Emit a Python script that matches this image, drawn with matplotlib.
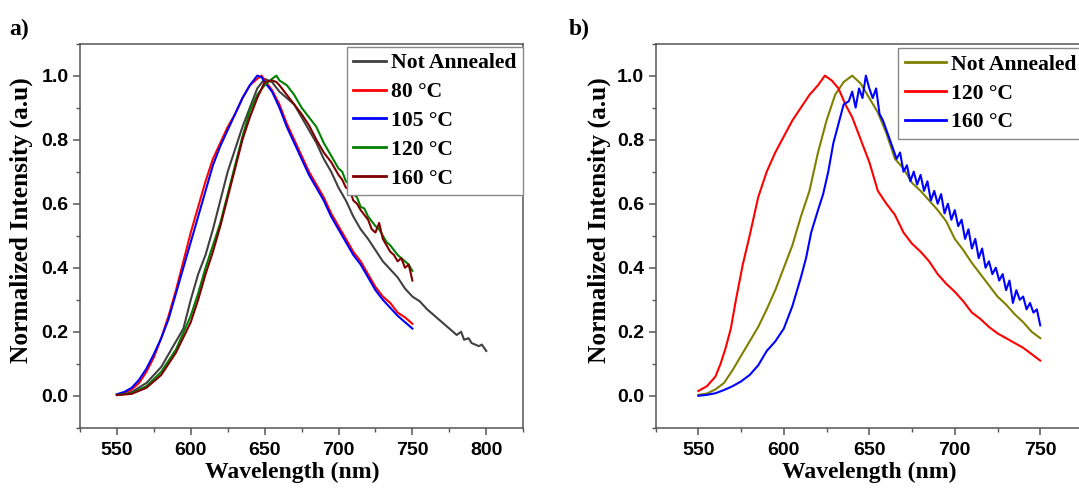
import matplotlib
matplotlib.use("Agg")
import matplotlib.pyplot as plt
from matplotlib.ticker import MultipleLocator

# ---- panel a: PL spectra vs annealing temperature ----
wl_a = [550, 555, 560, 565, 570, 575, 580, 585, 590, 595, 600, 605, 610, 615, 620,
        625, 630, 635, 640, 645, 648, 650, 655, 660, 665, 670, 675, 680, 685, 690,
        695, 700, 705, 710, 715, 720, 725, 730, 735, 740, 745, 750]
red_a = [0.003, 0.008, 0.02, 0.04, 0.075, 0.12, 0.18, 0.25, 0.33, 0.42, 0.51, 0.59,
         0.67, 0.74, 0.79, 0.84, 0.88, 0.93, 0.97, 0.99, 1.0, 0.985, 0.955, 0.91,
         0.85, 0.80, 0.75, 0.70, 0.66, 0.62, 0.57, 0.53, 0.49, 0.45, 0.42, 0.38, 0.34,
         0.31, 0.29, 0.26, 0.245, 0.225]
blue_a = [0.005, 0.012, 0.025, 0.05, 0.085, 0.13, 0.18, 0.24, 0.32, 0.40, 0.48, 0.56,
          0.64, 0.72, 0.78, 0.83, 0.88, 0.93, 0.97, 1.0, 0.995, 0.98, 0.95, 0.90,
          0.84, 0.79, 0.74, 0.69, 0.65, 0.61, 0.56, 0.52, 0.48, 0.44, 0.41, 0.37, 0.33,
          0.30, 0.275, 0.25, 0.23, 0.21]

wl_na_a = [550, 560, 570, 580, 590, 595, 600, 605, 610, 615, 620, 625, 630, 635, 640,
           645, 650, 655, 660, 665, 670, 675, 680, 685, 690, 695, 700, 705, 710, 715,
           720, 725, 730, 735, 740, 745, 750, 755, 760, 765, 770, 775, 780, 783, 785,
           788, 790, 795, 797, 800]
na_a = [0.003, 0.012, 0.04, 0.09, 0.17, 0.21, 0.30, 0.38, 0.44, 0.52, 0.61, 0.70,
        0.77, 0.84, 0.90, 0.96, 0.99, 0.98, 0.95, 0.93, 0.91, 0.87, 0.83, 0.79, 0.74,
        0.70, 0.65, 0.61, 0.56, 0.52, 0.49, 0.455, 0.42, 0.395, 0.37, 0.335, 0.31,
        0.295, 0.27, 0.25, 0.23, 0.21, 0.19, 0.20, 0.175, 0.18, 0.165, 0.155, 0.16,
        0.14]

wl_hot_a = [550, 560, 570, 580, 590, 600, 605, 610, 615, 620, 625, 630, 635, 640, 645,
            650, 655, 658, 660, 665, 670, 675, 680, 685, 690, 695, 700, 702.5, 705,
            707.5, 710, 712.5, 715, 717.5, 720, 722.5, 725, 727.5, 730, 732.5, 735,
            737.5, 740, 742.5, 745, 747.5, 750]
green_a = [0.003, 0.008, 0.03, 0.075, 0.145, 0.25, 0.32, 0.40, 0.47, 0.54, 0.63, 0.72,
           0.81, 0.89, 0.94, 0.97, 0.99, 1.0, 0.985, 0.97, 0.94, 0.90, 0.87, 0.84,
           0.79, 0.75, 0.71, 0.70, 0.67, 0.66, 0.63, 0.62, 0.59, 0.585, 0.56, 0.545,
           0.53, 0.52, 0.50, 0.48, 0.47, 0.455, 0.44, 0.43, 0.42, 0.41, 0.39]
dred_a = [0.002, 0.006, 0.025, 0.065, 0.135, 0.23, 0.30, 0.38, 0.45, 0.53, 0.62, 0.71,
          0.80, 0.87, 0.93, 0.98, 0.985, 0.98, 0.97, 0.94, 0.91, 0.88, 0.845, 0.80,
          0.76, 0.73, 0.69, 0.675, 0.65, 0.645, 0.61, 0.60, 0.58, 0.565, 0.55, 0.52,
          0.51, 0.54, 0.49, 0.47, 0.45, 0.44, 0.42, 0.43, 0.40, 0.41, 0.36]

# ---- panel b ----
wl_red_b = [550, 555, 560, 563, 566, 569, 572, 576, 580, 585, 590, 595, 600, 605, 610,
            615, 620, 624, 628, 632, 636, 640, 645, 650, 655, 660, 665, 670, 675, 680,
            685, 690, 695, 700, 705, 710, 715, 720, 725, 730, 735, 740, 745, 750]
red_b = [0.015, 0.03, 0.06, 0.10, 0.15, 0.21, 0.30, 0.41, 0.50, 0.62, 0.70, 0.76,
         0.81, 0.86, 0.90, 0.94, 0.97, 1.0, 0.985, 0.96, 0.91, 0.87, 0.80, 0.73, 0.64,
         0.60, 0.565, 0.51, 0.475, 0.45, 0.42, 0.38, 0.35, 0.325, 0.295, 0.26, 0.24,
         0.215, 0.195, 0.18, 0.165, 0.15, 0.13, 0.11]

wl_na_b = [550, 555, 560, 565, 570, 575, 580, 585, 590, 595, 600, 605, 610, 615, 620,
           625, 630, 635, 640, 645, 650, 655, 660, 665, 670, 675, 680, 685, 690, 695,
           700, 705, 710, 715, 720, 725, 730, 735, 740, 745, 750]
na_b = [0.003, 0.007, 0.02, 0.04, 0.08, 0.125, 0.17, 0.215, 0.27, 0.33, 0.40, 0.47,
        0.56, 0.64, 0.76, 0.86, 0.94, 0.98, 1.0, 0.975, 0.93, 0.885, 0.82, 0.74, 0.71,
        0.665, 0.64, 0.61, 0.58, 0.545, 0.49, 0.455, 0.415, 0.38, 0.345, 0.31, 0.285,
        0.255, 0.23, 0.20, 0.18]

wl_blue_b = [550, 555, 560, 565, 570, 575, 580, 585, 590, 595, 600, 605, 610, 613, 616,
             620, 623, 626, 629, 632, 635, 638, 640, 642, 644, 646, 648, 650, 652, 654,
             656, 658, 660, 662, 664, 666, 668, 670, 672, 674, 676, 678, 680, 682, 684,
             686, 688, 690, 692, 694, 696, 698, 700, 702, 704, 706, 708, 710, 712, 714,
             716, 718, 720, 722, 724, 726, 728, 730, 732, 734, 736, 738, 740, 742, 744,
             746, 748, 750]
blue_b = [0.0, 0.003, 0.008, 0.018, 0.03, 0.045, 0.065, 0.095, 0.14, 0.17, 0.21, 0.28,
          0.37, 0.43, 0.51, 0.58, 0.63, 0.70, 0.79, 0.85, 0.91, 0.92, 0.95, 0.90, 0.96,
          0.93, 1.0, 0.96, 0.93, 0.96, 0.88, 0.86, 0.83, 0.80, 0.77, 0.74, 0.76, 0.70,
          0.72, 0.67, 0.70, 0.66, 0.69, 0.64, 0.67, 0.61, 0.64, 0.60, 0.63, 0.57, 0.60,
          0.55, 0.58, 0.53, 0.55, 0.49, 0.52, 0.46, 0.49, 0.43, 0.46, 0.40, 0.42, 0.38,
          0.40, 0.36, 0.38, 0.33, 0.36, 0.29, 0.33, 0.30, 0.31, 0.27, 0.29, 0.26, 0.27,
          0.22]

serif = "Liberation Serif"
sans = "Liberation Sans"
frame_col = "#555555"

fig = plt.figure(figsize=(10.79, 4.90), dpi=100)
ax_a = fig.add_axes([0.0741, 0.1269, 0.4108, 0.7841])
ax_b = fig.add_axes([0.6076, 0.1269, 0.3961, 0.7841])

lw = 1.5
ax_a.plot(wl_na_a, na_a, color="#404040", lw=lw, label="Not Annealed")
ax_a.plot(wl_a, red_a, color="#ff0000", lw=lw, label="80 °C")
ax_a.plot(wl_a, blue_a, color="#0000ff", lw=lw, label="105 °C")
ax_a.plot(wl_hot_a, green_a, color="#008000", lw=lw, label="120 °C")
ax_a.plot(wl_hot_a, dred_a, color="#800000", lw=lw, label="160 °C")

ax_b.plot(wl_na_b, na_b, color="#808000", lw=lw, label="Not Annealed")
ax_b.plot(wl_red_b, red_b, color="#ff0000", lw=lw, label="120 °C")
ax_b.plot(wl_blue_b, blue_b, color="#0000ff", lw=lw, label="160 °C")

for ax, xmax, majors, xlab_x in ((ax_a, 825, [550, 600, 650, 700, 750, 800], 0.48),
                                 (ax_b, 775, [550, 600, 650, 700, 750], 0.5)):
    ax.set_xlim(525, xmax)
    ax.set_ylim(-0.1, 1.1)
    ax.set_xticks(majors)
    ax.xaxis.set_minor_locator(MultipleLocator(25))
    ax.set_yticks([0.0, 0.2, 0.4, 0.6, 0.8, 1.0])
    ax.yaxis.set_minor_locator(MultipleLocator(0.1))
    for s in ax.spines.values():
        s.set_color(frame_col)
        s.set_linewidth(1.1)
    ax.tick_params(which="both", direction="out", color=frame_col, top=False, right=False)
    ax.tick_params(which="major", length=5, width=1.1)
    ax.tick_params(which="minor", length=3, width=1.0)
    ax.tick_params(axis="x", pad=5)
    ax.tick_params(axis="y", pad=3.2)
    for lab in ax.get_xticklabels() + ax.get_yticklabels():
        lab.set_fontfamily(sans)
        lab.set_fontweight("bold")
        lab.set_fontsize(14)
    ax.set_xlabel("Wavelength (nm)", fontfamily=serif, fontweight="bold", fontsize=17)
    ax.set_ylabel("Normalized Intensity (a.u)", fontfamily=serif, fontweight="bold",
                  fontsize=18.3)
    ax.xaxis.set_label_coords(xlab_x, -0.089)
    ax.yaxis.set_label_coords(-0.105, 0.541)

leg_kw = dict(loc="upper right", borderaxespad=0, fancybox=False, framealpha=1,
              edgecolor="#888888", borderpad=0.3, labelspacing=0.4, handletextpad=0.25,
              prop={"family": serif, "weight": "bold", "size": 15.6})
leg_a = ax_a.legend(bbox_to_anchor=(1.0, 1 - 3 / 384), handlelength=1.5, **leg_kw)
leg_b = ax_b.legend(bbox_to_anchor=(1.0, 1 - 4.5 / 384), handlelength=1.9, **leg_kw)
for leg in (leg_a, leg_b):
    leg.get_frame().set_linewidth(1.0)
    for h in leg.get_lines():
        h.set_linewidth(2.0)

fig.text(9 / 1079, 1 - 29 / 490, "a)", fontfamily=serif, fontweight="bold", fontsize=17, va="center")
fig.text(569 / 1079, 1 - 29 / 490, "b)", fontfamily=serif, fontweight="bold", fontsize=17, va="center")

fig.savefig("out.png", dpi=100)
